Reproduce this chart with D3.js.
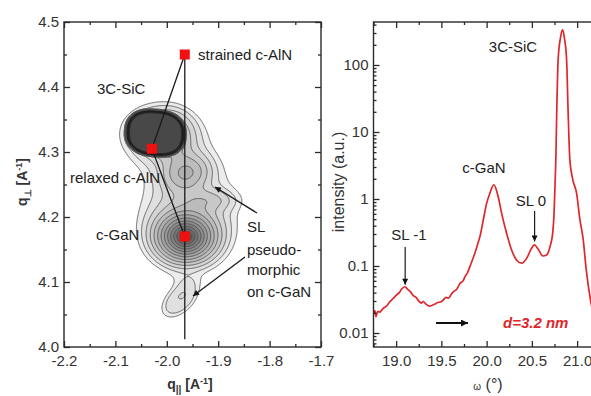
<!DOCTYPE html>
<html><head><meta charset="utf-8">
<script src="https://cdn.jsdelivr.net/npm/d3@7"></script>
<style>
html,body{margin:0;padding:0;background:#fff;}
svg text{font-family:"Liberation Sans",Arial,Helvetica,sans-serif;}
</style></head>
<body>
<svg id="c" width="591" height="396"></svg>
<script>
// ---------------- DATA ----------------
// Left panel: reciprocal space map, peak positions (q_par, q_perp)
const markerPoints = [
  {name:"strained c-AlN", q:-1.965, p:4.450},
  {name:"relaxed c-AlN",  q:-2.029, p:4.305},
  {name:"c-GaN",          q:-1.965, p:4.170}
];
// Intensity components: centre, widths, amplitude, radial exponent, squareness, tilt (deg)
const compNames = ["SiC core","SiC lobe","SiC halo","SL","c-GaN","pseudomorphic","base","shoulder","bridge"];
const compQ   = [-2.022, -1.988, -2.014, -1.962, -1.963, -1.976, -1.958, -1.918, -1.970];
const compP   = [ 4.329,  4.322,  4.330,  4.268,  4.170,  4.071,  4.220,  4.226,  4.103];
const compRx  = [ 0.050,  0.032,  0.070,  0.040,  0.0185, 0.044,  0.113,  0.049,  0.036];
const compRy  = [ 0.0305, 0.032,  0.042,  0.025,  0.0122, 0.024,  0.100,  0.0154, 0.012];
const compAmp = [ 2500,   1.4,    3.0,    3.3,    67,     1.6,    1.7,    1.3,    0.28];
const compExp = [ 12,     2,      2,      2,      1,      3,      2,      2,      2];
const compSq  = [ 2.5,    2,      2,      2,      2,      2,      2,      2,      2];
const compAng = [ -4,     0,      0,      8,      0,      30,     0,      0,      0];
const levelRatio = 1.35, levelCount = 23;

const xTicksL = [-2.2,-2.1,-2.0,-1.9,-1.8,-1.7];
const yTicksL = [4.0,4.1,4.2,4.3,4.4,4.5];

// Right panel: omega scan
const omega = [18.747,18.765,18.777,18.79,18.80,18.82,18.84,18.87,18.895,18.93,18.97,19.005,19.035,19.06,19.097,19.12,19.135,19.16,19.19,19.22,19.25,19.28,19.30,19.33,19.37,19.40,19.43,19.46,19.49,19.52,19.55,19.58,19.61,19.64,19.67,19.705,19.74,19.76,19.79,19.815,19.845,19.87,19.9,19.926,19.963,20.0,20.036,20.08,20.128,20.166,20.22,20.276,20.33,20.387,20.442,20.497,20.526,20.57,20.62,20.663,20.70,20.73,20.745,20.755,20.765,20.775,20.79,20.815,20.84,20.86,20.884,20.90,20.92,20.95,20.994,21.03,21.067,21.1,21.15,21.2];
const intensity = [0.0197,0.0215,0.0175,0.020,0.021,0.0205,0.022,0.024,0.0253,0.0293,0.033,0.037,0.040,0.045,0.049,0.046,0.044,0.041,0.036,0.034,0.030,0.028,0.0295,0.027,0.0252,0.026,0.027,0.0285,0.029,0.031,0.034,0.033,0.038,0.042,0.045,0.055,0.060,0.069,0.080,0.098,0.125,0.155,0.21,0.274,0.486,0.86,1.22,1.62,1.08,0.61,0.31,0.173,0.123,0.11,0.130,0.184,0.206,0.178,0.141,0.146,0.194,0.31,0.6,1.5,4,21,118,250,333,250,118,21,3.8,2.0,1.22,0.5,0.25,0.09,0.03,0.015];
const xTicksR = [19.0,19.5,20.0,20.5,21.0];
const yTicksR = [0.01,0.1,1,10,100];
const yTickLabelsR = ["0.01","0.1","1","10","100"];

// ---------------- DRAW ----------------
const svg = d3.select("#c");
const ink = "#2a2a2a";

const defs = svg.append("defs");
defs.append("marker").attr("id","ah").attr("viewBox","0 0 10 10").attr("refX",10).attr("refY",5)
  .attr("markerWidth",9).attr("markerHeight",7).attr("markerUnits","userSpaceOnUse").attr("orient","auto")
  .append("path").attr("d","M0,0L10,5L0,10Z").attr("fill","#111");
defs.append("marker").attr("id","ahs").attr("viewBox","0 0 10 10").attr("refX",10).attr("refY",5)
  .attr("markerWidth",7).attr("markerHeight",6).attr("markerUnits","userSpaceOnUse").attr("orient","auto")
  .append("path").attr("d","M0,0L10,5L0,10Z").attr("fill","#111");

// ===== Left panel =====
const xL = d3.scaleLinear([-2.2,-1.7],[64,321]);
const yL = d3.scaleLinear([4.0,4.5],[347,22]);
defs.append("clipPath").attr("id","clipL").append("rect")
  .attr("x",64).attr("y",22).attr("width",257).attr("height",325);

const x0 = 64, y0 = 22, nx = 257, ny = 325;
const vals = new Float64Array(nx*ny);
const rad = compAng.map(a => a*Math.PI/180);
for (let j=0;j<ny;j++){
  const p = yL.invert(y0+j+0.5);
  for (let i=0;i<nx;i++){
    const q = xL.invert(x0+i+0.5);
    let v = 0;
    for (let k=0;k<compQ.length;k++){
      const dx = q-compQ[k], dy = p-compP[k];
      const c = Math.cos(rad[k]), s = Math.sin(rad[k]);
      const u = Math.abs((dx*c + dy*s)/compRx[k]), w = Math.abs((-dx*s + dy*c)/compRy[k]);
      const n = compSq[k];
      const r = Math.pow(Math.pow(u,n)+Math.pow(w,n), 1/n);
      v += compAmp[k]*Math.exp(-Math.pow(r, compExp[k]));
    }
    vals[j*nx+i] = v;
  }
}
const thresholds = d3.range(levelCount).map(k => Math.pow(levelRatio,k));
const contours = d3.contours().size([nx,ny]).thresholds(thresholds)(vals);
const path = d3.geoPath(d3.geoIdentity().translate([x0,y0]));
const gC = svg.append("g").attr("clip-path","url(#clipL)");
gC.selectAll("path").data(contours).join("path")
  .attr("d", path)
  .attr("fill", (d,i) => { const g = Math.max(72, Math.round(236 - 12*i)); return `rgb(${g},${g},${g})`; })
  .attr("stroke", (d,i) => i < 16 ? "#474747" : "#1a1a1a").attr("stroke-width", 0.8).attr("stroke-linejoin","round");

const [ms, mr, mg] = markerPoints;
const gL = svg.append("g");
gL.append("line").attr("x1",xL(-1.965)).attr("x2",xL(-1.965)).attr("y1",yL(4.45)).attr("y2",yL(4.012))
  .attr("stroke","#1a1a1a").attr("stroke-width",1.3);
gL.append("line").attr("x1",xL(ms.q)).attr("y1",yL(ms.p)).attr("x2",xL(mr.q)).attr("y2",yL(mr.p))
  .attr("stroke","#1a1a1a").attr("stroke-width",1.3);
gL.append("line").attr("x1",xL(mr.q)).attr("y1",yL(mr.p)).attr("x2",xL(mg.q)).attr("y2",yL(mg.p))
  .attr("stroke","#1a1a1a").attr("stroke-width",1.3);
gL.selectAll("rect.m").data(markerPoints).join("rect").attr("class","m")
  .attr("x", d=>xL(d.q)-5).attr("y", d=>yL(d.p)-5).attr("width",10).attr("height",10)
  .attr("fill","#f01010");

gL.append("line").attr("x1",257).attr("y1",213).attr("x2",215).attr("y2",187)
  .attr("stroke","#1a1a1a").attr("stroke-width",1.3).attr("marker-end","url(#ahs)");
gL.append("line").attr("x1",245).attr("y1",257).attr("x2",193).attr("y2",296)
  .attr("stroke","#1a1a1a").attr("stroke-width",1.3).attr("marker-end","url(#ahs)");

function frame(g, x1, y1, x2, y2){
  g.append("rect").attr("x",x1).attr("y",y1).attr("width",x2-x1).attr("height",y2-y1)
    .attr("fill","none").attr("stroke",ink).attr("stroke-width",1.4);
}
frame(svg, 64, 22, 321, 347);
const fmt1 = d => d.toFixed(1);
function styleAxis(g){
  g.select(".domain").remove();
  g.selectAll("line").attr("stroke",ink).attr("stroke-width",1.3);
  g.selectAll("text").attr("fill","#333").style("font-size","15px").style("font-family","'Liberation Sans',Arial,sans-serif");
}
const minorXL = d3.range(-2.15,-1.7,0.1);
const minorYL = d3.range(4.05,4.5,0.1);
svg.append("g").attr("transform","translate(0,347)").call(d3.axisBottom(xL).tickValues(xTicksL).tickSize(-6).tickPadding(8).tickFormat(fmt1)).call(styleAxis);
svg.append("g").attr("transform","translate(0,347)").call(d3.axisBottom(xL).tickValues(minorXL).tickSize(-3).tickFormat("")).call(styleAxis);
svg.append("g").attr("transform","translate(0,22)").call(d3.axisTop(xL).tickValues(xTicksL).tickSize(-6).tickFormat("")).call(styleAxis);
svg.append("g").attr("transform","translate(0,22)").call(d3.axisTop(xL).tickValues(minorXL).tickSize(-3).tickFormat("")).call(styleAxis);
svg.append("g").attr("transform","translate(64,0)").call(d3.axisLeft(yL).tickValues(yTicksL).tickSize(-6).tickPadding(5).tickFormat(fmt1)).call(styleAxis);
svg.append("g").attr("transform","translate(64,0)").call(d3.axisLeft(yL).tickValues(minorYL).tickSize(-3).tickFormat("")).call(styleAxis);
svg.append("g").attr("transform","translate(321,0)").call(d3.axisRight(yL).tickValues(yTicksL).tickSize(-6).tickFormat("")).call(styleAxis);
svg.append("g").attr("transform","translate(321,0)").call(d3.axisRight(yL).tickValues(minorYL).tickSize(-3).tickFormat("")).call(styleAxis);

const lab = (x,y,t,opt={}) => svg.append("text").attr("x",x).attr("y",y).text(t)
  .attr("fill", opt.fill||"#222").style("font-size",(opt.size||15)+"px")
  .style("font-style",opt.italic?"italic":"normal").style("font-weight",opt.bold?"bold":"normal")
  .attr("text-anchor",opt.anchor||"start");
lab(198,60,"strained c-AlN");
lab(97,94,"3C-SiC");
lab(70,183,"relaxed c-AlN");
lab(96,240,"c-GaN");
lab(247,232,"SL");
lab(247,255,"pseudo-");
lab(247,275,"morphic");
lab(247,297,"on c-GaN");

const xt = svg.append("text").attr("x",190).attr("y",389).attr("text-anchor","middle")
  .style("font-size","14px").style("font-weight","bold").attr("fill","#333");
xt.append("tspan").text("q");
xt.append("tspan").text("||").attr("dy",4).style("font-size","10px");
xt.append("tspan").text(" [A").attr("dy",-4);
xt.append("tspan").text("-1").attr("dy",-5).style("font-size","9px");
xt.append("tspan").text("]").attr("dy",5);
const yt = svg.append("text").attr("transform","translate(27,182) rotate(-90)").attr("text-anchor","middle")
  .style("font-size","14px").style("font-weight","bold").attr("fill","#333");
yt.append("tspan").text("q");
yt.append("tspan").text("\u22a5").attr("dy",4).style("font-size","9px");
yt.append("tspan").text(" [A").attr("dy",-4);
yt.append("tspan").text("-1").attr("dy",-5).style("font-size","9px");
yt.append("tspan").text("]").attr("dy",5);

// ===== Right panel =====
const xR = d3.scaleLinear([18.75,21.25],[373.5,599.75]);
const yR = d3.scaleLog([0.00618,438],[347,22]);
defs.append("clipPath").attr("id","clipR").append("rect")
  .attr("x",373.5).attr("y",22).attr("width",230).attr("height",325);
const line = d3.line().x((d,i)=>xR(omega[i])).y(d=>yR(d)).curve(d3.curveMonotoneX);
svg.append("path").attr("clip-path","url(#clipR)").attr("d", line(intensity))
  .attr("fill","none").attr("stroke","#e0262a").attr("stroke-width",1.7).attr("stroke-linejoin","round");

frame(svg, 373.5, 22, 599.75, 347);
const minorXR = d3.range(18.75,21.26,0.25).filter(v => Math.abs(v*2-Math.round(v*2))>0.01);
svg.append("g").attr("transform","translate(0,347)").call(d3.axisBottom(xR).tickValues(xTicksR).tickSize(-6).tickPadding(8).tickFormat(fmt1)).call(styleAxis);
svg.append("g").attr("transform","translate(0,347)").call(d3.axisBottom(xR).tickValues(minorXR).tickSize(-3).tickFormat("")).call(styleAxis);
svg.append("g").attr("transform","translate(0,22)").call(d3.axisTop(xR).tickValues(xTicksR).tickSize(-6).tickFormat("")).call(styleAxis);
svg.append("g").attr("transform","translate(0,22)").call(d3.axisTop(xR).tickValues(minorXR).tickSize(-3).tickFormat("")).call(styleAxis);
const minorYR = [];
for (let e=-3;e<=2;e++) for (let m=2;m<=9;m++){ const v=m*Math.pow(10,e); if (v>0.00618 && v<438) minorYR.push(v); }
svg.append("g").attr("transform","translate(373.5,0)").call(d3.axisLeft(yR).tickValues(yTicksR).tickSize(-6).tickPadding(5).tickFormat((d,i)=>yTickLabelsR[i])).call(styleAxis);
svg.append("g").attr("transform","translate(373.5,0)").call(d3.axisLeft(yR).tickValues(minorYR).tickSize(-3).tickFormat("")).call(styleAxis);

lab(513,52,"3C-SiC",{anchor:"middle"});
lab(484,173,"c-GaN",{anchor:"middle"});
lab(531,206,"SL 0",{anchor:"middle"});
lab(409,240,"SL -1",{anchor:"middle"});
svg.append("line").attr("x1",xR(20.53)).attr("x2",xR(20.53)).attr("y1",211).attr("y2",yR(0.21)-3)
  .attr("stroke","#1a1a1a").attr("stroke-width",1.2).attr("marker-end","url(#ahs)");
svg.append("line").attr("x1",xR(19.1)).attr("x2",xR(19.1)).attr("y1",247).attr("y2",yR(0.049)-2)
  .attr("stroke","#1a1a1a").attr("stroke-width",1.2).attr("marker-end","url(#ahs)");
svg.append("line").attr("x1",436).attr("x2",468).attr("y1",323).attr("y2",323)
  .attr("stroke","#111").attr("stroke-width",2).attr("marker-end","url(#ah)");
lab(503,328,"d=3.2 nm",{fill:"#e0262a",italic:true,bold:true});

svg.append("text").attr("transform","translate(344,182) rotate(-90)").attr("text-anchor","middle")
  .style("font-size","16px").attr("fill","#333").text("intensity (a.u.)");
const xt2 = svg.append("text").attr("x",488).attr("y",390).attr("text-anchor","middle").attr("fill","#333");
xt2.append("tspan").text("\u03c9").style("font-size","10px");
xt2.append("tspan").text(" (°)").style("font-size","16px");
</script>
</body></html>
